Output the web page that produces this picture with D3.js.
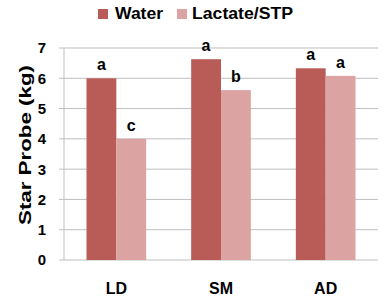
<!DOCTYPE html>
<html>
<head>
<meta charset="utf-8">
<script src="https://cdn.jsdelivr.net/npm/d3@7.9.0/dist/d3.min.js"></script>
<style>
  body { margin: 0; background: #fff; }
  text { font-family: "Liberation Sans", Arial, sans-serif; font-weight: bold; fill: #000; }
</style>
</head>
<body>
<svg id="chart" width="384" height="301"></svg>
<script>
const categories = ['LD', 'SM', 'AD'];
const seriesNames = ['Water', 'Lactate/STP'];
const water = [6.0, 6.63, 6.33];
const lactate = [4.0, 5.61, 6.08];
const waterLetters = ['a', 'a', 'a'];
const lactateLetters = ['c', 'b', 'a'];
const yTicks = [0, 1, 2, 3, 4, 5, 6, 7];

const colors = ['#b95b56', '#dba4a3'];

const svg = d3.select('#chart');
const margin = { top: 48, right: 6, bottom: 41, left: 64 };
const width = 384 - margin.left - margin.right;
const height = 301 - margin.top - margin.bottom;

const g = svg.append('g').attr('transform', `translate(${margin.left},${margin.top})`);

const x = d3.scaleBand().domain(categories).range([0, width]).paddingInner(0.43).paddingOuter(0.215);
const x1 = d3.scaleBand().domain(seriesNames).range([0, x.bandwidth()]);
const y = d3.scaleLinear().domain([0, 7]).range([height, 0]);

// gridlines + tick marks
g.selectAll('.grid')
  .data(yTicks)
  .enter()
  .append('line')
  .attr('x1', -5)
  .attr('x2', width)
  .attr('y1', d => y(d))
  .attr('y2', d => y(d))
  .attr('stroke', '#bfbfbf')
  .attr('stroke-width', 1);

// left axis line
g.append('line')
  .attr('x1', 0).attr('x2', 0)
  .attr('y1', 0).attr('y2', height)
  .attr('stroke', '#bfbfbf');

// tick labels
g.selectAll('.ytick')
  .data(yTicks)
  .enter()
  .append('text')
  .attr('x', -18)
  .attr('y', d => y(d))
  .attr('dy', '0.36em')
  .attr('text-anchor', 'end')
  .style('font-size', '15px')
  .text(d => d);

const rows = categories.map((c, i) => ({
  cat: c,
  vals: [
    { name: seriesNames[0], v: water[i], letter: waterLetters[i] },
    { name: seriesNames[1], v: lactate[i], letter: lactateLetters[i] },
  ],
}));

const groups = g.selectAll('.cat')
  .data(rows)
  .enter()
  .append('g')
  .attr('transform', d => `translate(${x(d.cat)},0)`);

groups.selectAll('rect')
  .data(d => d.vals)
  .enter()
  .append('rect')
  .attr('x', d => x1(d.name))
  .attr('y', d => y(d.v))
  .attr('width', x1.bandwidth())
  .attr('height', d => height - y(d.v))
  .attr('fill', (d, i) => colors[i]);

groups.selectAll('.letter')
  .data(d => d.vals)
  .enter()
  .append('text')
  .attr('x', d => x1(d.name) + x1.bandwidth() / 2)
  .attr('y', d => y(d.v) - 8)
  .attr('text-anchor', 'middle')
  .style('font-size', '16px')
  .text(d => d.letter);

// category labels
g.selectAll('.xlab')
  .data(categories)
  .enter()
  .append('text')
  .attr('x', d => x(d) + x.bandwidth() / 2)
  .attr('y', height + 34)
  .attr('text-anchor', 'middle')
  .style('font-size', '16px')
  .text(d => d);

// y-axis title
svg.append('text')
  .attr('transform', `translate(31,145) rotate(-90)`)
  .attr('text-anchor', 'middle')
  .attr('textLength', 160)
  .attr('lengthAdjust', 'spacingAndGlyphs')
  .style('font-size', '17px')
  .text('Star Probe (kg)');

// legend
const legendX = [98, 177];
const legendW = [48, 101];
const legend = svg.selectAll('.leg')
  .data(seriesNames)
  .enter()
  .append('g')
  .attr('transform', (d, i) => `translate(${legendX[i]},9)`);

legend.append('rect')
  .attr('width', 10)
  .attr('height', 10)
  .attr('fill', (d, i) => colors[i]);

legend.append('text')
  .attr('x', (d, i) => (i === 0 ? 17 : 15))
  .attr('y', 10)
  .attr('textLength', (d, i) => legendW[i])
  .attr('lengthAdjust', 'spacingAndGlyphs')
  .style('font-size', '16px')
  .text(d => d);
</script>
</body>
</html>
